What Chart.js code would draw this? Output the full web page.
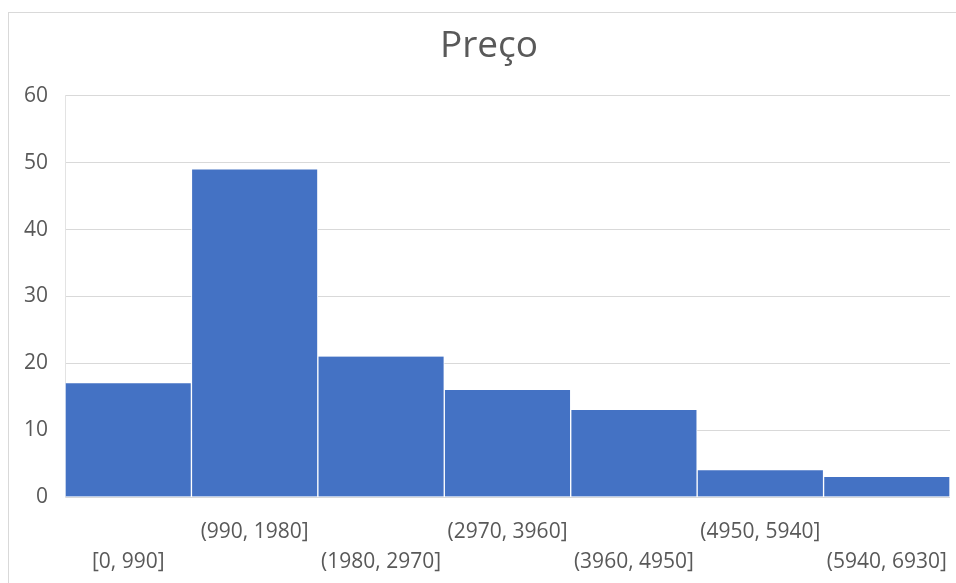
<!DOCTYPE html>
<html>
<head>
<meta charset="utf-8">
<script src="https://cdn.jsdelivr.net/npm/chart.js@4/dist/chart.umd.min.js"></script>
<style>
  html, body { margin: 0; padding: 0; background: #ffffff; overflow: hidden; }
  #wrap { position: absolute; left: 0; top: 0; width: 956px; height: 583px; }
  #frame { position: absolute; left: 8px; top: 12px; width: 970px; height: 600px;
           border: 1px solid #d9d9d9; box-sizing: border-box; pointer-events: none; }
</style>
</head>
<body>
<div id="frame"></div>
<div id="wrap"><canvas id="c"></canvas></div>
<script>
const chartTitle = "Preço";
const categories = ["[0, 990]", "(990, 1980]", "(1980, 2970]", "(2970, 3960]", "(3960, 4950]", "(4950, 5940]", "(5940, 6930]"];
const counts = [17, 49, 21, 16, 13, 4, 3];
const yTicks = [0, 10, 20, 30, 40, 50, 60];

const textColor = "#595959";
const fontFamily = "'Open Sans', 'Liberation Sans', sans-serif";
const padLeft = 28;

new Chart(document.getElementById("c"), {
  type: "bar",
  data: {
    labels: categories,
    datasets: [{
      label: chartTitle,
      data: counts,
      backgroundColor: "#4472C4",
      borderColor: "#ffffff",
      borderWidth: { left: 1, right: 1, top: 0, bottom: 0 },
      borderSkipped: false,
      categoryPercentage: 1.0,
      barPercentage: 1.0
    }]
  },
  options: {
    responsive: true,
    maintainAspectRatio: false,
    animation: false,
    layout: { padding: { left: padLeft, right: 6, top: 0, bottom: 0 } },
    plugins: {
      legend: { display: false },
      tooltip: { enabled: false },
      title: {
        display: true,
        text: chartTitle,
        color: textColor,
        font: { family: fontFamily, size: 37, weight: "normal", lineHeight: 1.2 },
        padding: { top: 24, bottom: 27.5 }
      }
    },
    scales: {
      x: {
        grid: { display: false, drawTicks: false },
        border: { display: false },
        ticks: {
          autoSkip: false,
          maxRotation: 0,
          minRotation: 0,
          color: textColor,
          padding: 20,
          font: { family: fontFamily, size: 21, lineHeight: 30 / 21 },
          callback: function (value, index) {
            const t = categories[index];
            return index % 2 === 0 ? ["", t] : [t, ""];
          }
        },
        afterFit: function (scale) {
          scale.height = 86;
          scale.paddingLeft = 0;
          scale.paddingRight = 0;
        }
      },
      y: {
        min: 0,
        max: 60,
        grid: { color: "#d9d9d9", lineWidth: 1, drawTicks: false },
        border: { display: true, color: "#e3e3e3" },
        afterBuildTicks: function (scale) {
          scale.ticks = yTicks.map(v => ({ value: v }));
        },
        ticks: {
          color: textColor,
          padding: 17,
          font: { family: fontFamily, size: 21 }
        },
        afterFit: function (scale) {
          scale.width = 65 - padLeft;
          // let tick labels extend into the left padding instead of being clipped
          scale._computeLabelArea = function () { return undefined; };
        }
      }
    }
  }
});
</script>
</body>
</html>
